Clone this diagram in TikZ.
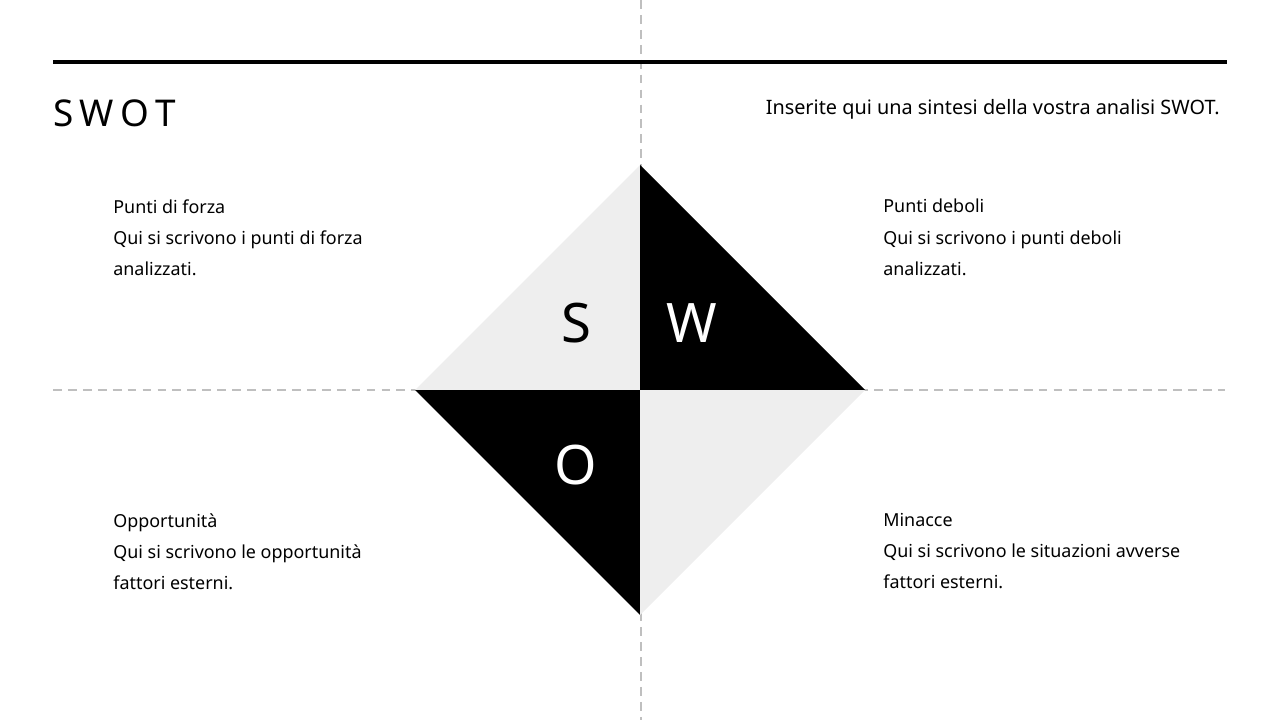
\documentclass[tikz,border=0pt]{standalone}
\usepackage{fontspec}
\setmainfont{Noto Sans}
\begin{document}
\begin{tikzpicture}[x=0.02cm,y=-0.02cm,
  body/.style={anchor=north west,align=left,inner sep=0,font=\fontsize{10.2}{17.7}\selectfont\bfseries},
  big/.style={font=\fontsize{31}{31}\selectfont\bfseries},
  dashline/.style={draw=black!25,line width=1.2pt,dash pattern=on 5pt off 3.5pt}]
\useasboundingbox (0,0) rectangle (1280,720);
\definecolor{lg}{HTML}{EEEEEE}
\draw[dashline] (641,0) -- (641,720);
\draw[dashline] (53,390) -- (1225,390);
\fill[lg] (415,390) -- (640,165) -- (640,390) -- cycle;
\fill[black] (640,165) -- (865,390) -- (640,390) -- cycle;
\fill[black] (415,390) -- (640,390) -- (640,615) -- cycle;
\fill[lg] (640,390) -- (865,390) -- (640,615) -- cycle;
\draw[line width=2.3pt] (53,62) -- (1227,62);
\node[anchor=west,inner sep=0,font=\fontsize{21}{21}\selectfont\bfseries] (t) at (53,113) {S\,W\,O\,T};
\node[anchor=east,inner sep=0,font=\fontsize{11.3}{12}\selectfont\bfseries] (s) at (1220,109) {Inserite qui una sintesi della vostra analisi SWOT.};
\node[big] (S) at (576,323) {S};
\node[big,white] (W) at (692,323) {W};
\node[big,white] (O) at (576,465) {O};
\node[body] (a) at (113,199) {Punti di forza\\Qui si scrivono i punti di forza\\analizzati.};
\node[body] (b) at (883,199) {Punti deboli\\Qui si scrivono i punti deboli\\analizzati.};
\node[body] (c) at (113,513) {Opportunità\\Qui si scrivono le opportunità\\fattori esterni.};
\node[body] (d) at (883,513) {Minacce\\Qui si scrivono le situazioni avverse\\fattori esterni.};
\end{tikzpicture}
\end{document}
